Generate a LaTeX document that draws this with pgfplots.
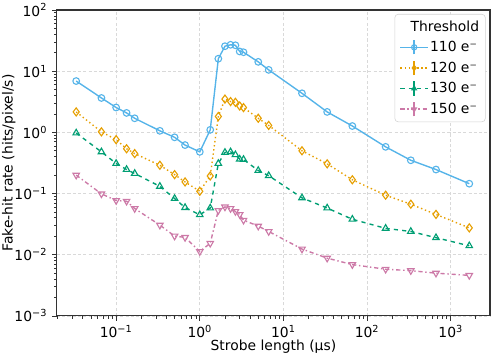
\documentclass[border=0pt]{standalone}
\usepackage{fontspec}
\setmainfont{DejaVu Sans}
\usepackage{pgfplots}
\usetikzlibrary{calc}
\pgfplotsset{compat=1.18}
\definecolor{cblue}{HTML}{56B4E9}
\definecolor{corange}{HTML}{E69F00}
\definecolor{cgreen}{HTML}{009E73}
\definecolor{cpink}{HTML}{CC79A7}
\pgfplotsset{
  errleg/.style={legend image code/.code={
    \draw[mark repeat=2,mark phase=2,##1,mark size=1.9pt] plot coordinates {(0cm,0cm)(0.35cm,0cm)(0.7cm,0cm)};
    \draw[##1,solid,mark=none] (0.35cm,-0.18cm) -- (0.35cm,0.18cm);
  }},
}
\begin{document}
\begin{tikzpicture}
\begin{axis}[
  scale only axis, width=311.8pt, height=220.3pt,
  xmode=log, ymode=log,
  xmin=0.0196, xmax=2944, ymin=1e-3, ymax=1e2,
  xtick={0.1,1,10,100,1000},
  xticklabels={10\textsuperscript{−1},10\textsuperscript{0},10\textsuperscript{1},10\textsuperscript{2},10\textsuperscript{3}},
  minor xtick={0.02,0.03,0.04,0.05,0.06,0.07,0.08,0.09,0.2,0.3,0.4,0.5,0.6,0.7,0.8,0.9,
    2,3,4,5,6,7,8,9,20,30,40,50,60,70,80,90,200,300,400,500,600,700,800,900,2000},
  ytick={1e-3,1e-2,1e-1,1,10,100},
  yticklabels={10\textsuperscript{−3},10\textsuperscript{−2},10\textsuperscript{−1},10\textsuperscript{0},10\textsuperscript{1},10\textsuperscript{2}},
  minor ytick={0.002,0.003,0.004,0.005,0.006,0.007,0.008,0.009,0.02,0.03,0.04,0.05,0.06,0.07,0.08,0.09,
    0.2,0.3,0.4,0.5,0.6,0.7,0.8,0.9,2,3,4,5,6,7,8,9,20,30,40,50,60,70,80,90},
  tick pos=left, tick align=outside,
  major tick length=3.5pt, minor tick length=2pt,
  every tick/.style={black!80, line width=0.6pt},
  tick label style={font=\fontsize{10}{12}\selectfont},
  axis line style={black!80, line width=0.8pt},
  xlabel={Strobe length (µs)}, ylabel={Fake-hit rate (hits/pixel/s)},
  label style={font=\fontsize{10}{12}\selectfont},
  xlabel style={at={(axis description cs:0.5,-0.102)}, anchor=center},
  ylabel style={at={(axis description cs:-0.111,0.5)}, anchor=center},
  grid=major, major grid style={dash pattern=on 2.2pt off 1.6pt, gray!30, line width=0.5pt},
  legend style={at={(0.99,0.987)}, anchor=north east, draw=gray!35, rounded corners=2.5pt,
    fill=white, font=\fontsize{10}{12}\selectfont, row sep=3.6pt, inner sep=3.5pt,
    nodes={inner sep=1pt}},
  legend cell align=left,
  every axis plot/.append style={line width=1pt, mark size=2.4pt},
]
\addlegendimage{empty legend}
\addlegendentry{\hspace*{-14pt}Threshold}
\addplot[cblue, solid, mark=o, mark options={line width=0.8pt}, errleg] coordinates {
(0.0333,6.9)(0.0667,3.65)(0.1,2.55)(0.1333,2.08)(0.1667,1.7)(0.3333,1.06)(0.5,0.83)(0.6667,0.62)
(1.0,0.48)(1.3333,1.1)(1.6667,16)(2.0,25.6)(2.3333,27)(2.6667,26.5)(3.0,21)(3.3333,20.4)
(5.0,14.2)(6.6667,10.5)(16.667,4.35)(33.333,2.16)(66.667,1.27)(166.67,0.58)(333.33,0.35)
(666.67,0.247)(1666.7,0.145)};
\addlegendentry{110 e⁻}
\addplot[corange, dotted, mark=diamond, mark options={solid, line width=0.8pt}, mark size=2.9pt, errleg] coordinates {
(0.0333,2.16)(0.0667,1.02)(0.1,0.76)(0.1333,0.54)(0.1667,0.45)(0.3333,0.29)(0.5,0.204)(0.6667,0.155)
(1.0,0.109)(1.3333,0.194)(1.6667,1.82)(2.0,3.5)(2.3333,3.19)(2.6667,3.1)(3.0,2.7)(3.3333,2.54)
(5.0,1.7)(6.6667,1.3)(16.667,0.50)(33.333,0.306)(66.667,0.168)(166.67,0.094)(333.33,0.067)
(666.67,0.0456)(1666.7,0.0275)};
\addlegendentry{120 e⁻}
\addplot[cgreen, dashed, mark=triangle, mark options={solid, line width=0.8pt}, mark size=2.7pt, errleg] coordinates {
(0.0333,0.975)(0.0667,0.48)(0.1,0.31)(0.1333,0.247)(0.1667,0.213)(0.3333,0.131)(0.5,0.083)(0.6667,0.059)
(1.0,0.045)(1.3333,0.058)(1.6667,0.31)(2.0,0.47)(2.3333,0.48)(2.6667,0.43)(3.0,0.365)(3.3333,0.36)
(5.0,0.238)(6.6667,0.196)(16.667,0.085)(33.333,0.058)(66.667,0.038)(166.67,0.027)(333.33,0.024)
(666.67,0.019)(1666.7,0.014)};
\addlegendentry{130 e⁻}
\addplot[cpink, dash dot, mark=triangle, mark options={solid, rotate=180, line width=0.8pt}, mark size=2.7pt, errleg] coordinates {
(0.0333,0.2)(0.0667,0.099)(0.1,0.077)(0.1333,0.075)(0.1667,0.057)(0.3333,0.0305)(0.5,0.0202)(0.6667,0.0192)
(1.0,0.0113)(1.3333,0.0154)(1.6667,0.053)(2.0,0.0605)(2.3333,0.057)(2.6667,0.051)(3.0,0.0455)(3.3333,0.0367)
(5.0,0.0294)(6.6667,0.024)(16.667,0.0124)(33.333,0.0088)(66.667,0.0069)(166.67,0.0058)(333.33,0.0055)
(666.67,0.0050)(1666.7,0.0046)};
\addlegendentry{150 e⁻}
\end{axis}
\pgfresetboundingbox
\path[use as bounding box] ($(current axis.south west)+(-41pt,-28.8pt)$) rectangle ($(current axis.north east)+(5.8pt,7.2pt)$);
\end{tikzpicture}
\end{document}
